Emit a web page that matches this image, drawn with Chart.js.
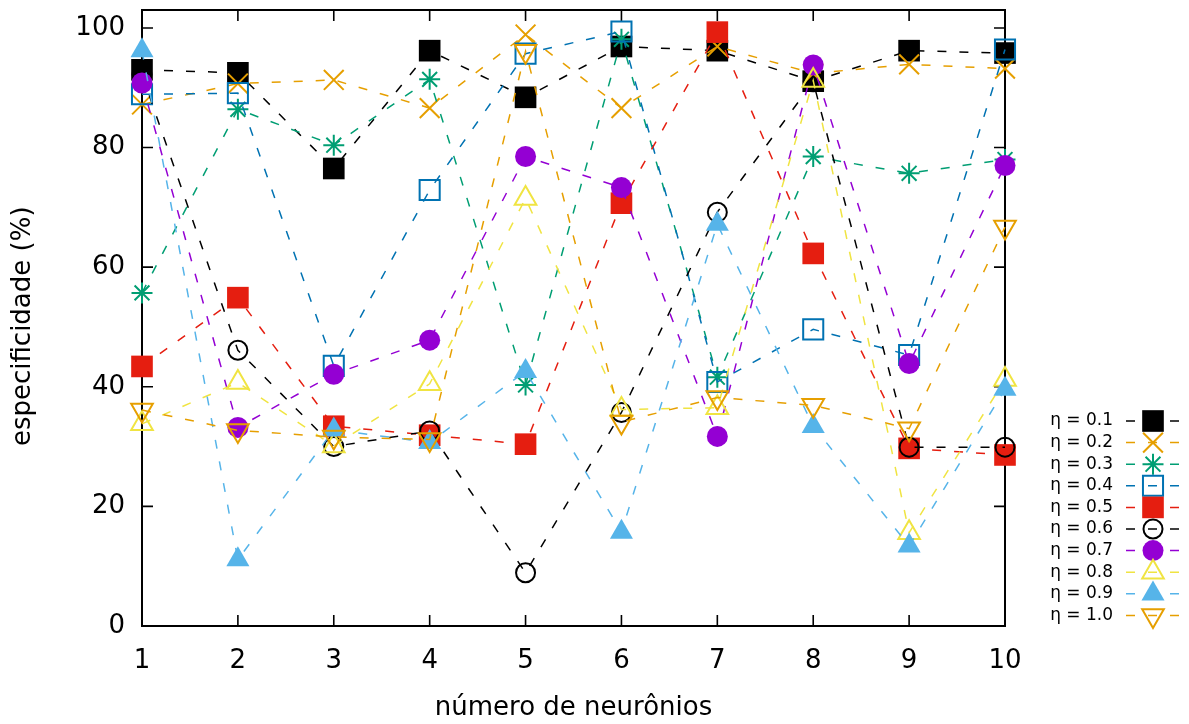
<!DOCTYPE html>
<html>
<head>
<meta charset="utf-8">
<script src="https://cdn.jsdelivr.net/npm/chart.js@4/dist/chart.umd.min.js"></script>
<style>
  html, body { margin: 0; padding: 0; background: #fff; }
  #wrap { width: 1189px; height: 724px; position: relative; }
</style>
</head>
<body>
<div id="wrap"><canvas id="chart"></canvas></div>
<script>
'use strict';

// data
const neurons = ['1', '2', '3', '4', '5', '6', '7', '8', '9', '10'];
const yTicks = [0, 20, 40, 60, 80, 100];
const etaLabels = ['η = 0.1', 'η = 0.2', 'η = 0.3', 'η = 0.4', 'η = 0.5',
                   'η = 0.6', 'η = 0.7', 'η = 0.8', 'η = 0.9', 'η = 1.0'];

const eta01 = [93.0, 92.5, 76.5, 96.2, 88.4, 96.9, 96.2, 91.1, 96.2, 95.8];
const eta02 = [87.2, 90.7, 91.3, 86.6, 98.9, 86.6, 96.9, 92.4, 93.9, 93.2];
const eta03 = [55.7, 86.4, 80.4, 91.4, 40.3, 98.1, 41.6, 78.5, 75.7, 78.0];
const eta04 = [88.9, 89.1, 43.5, 72.9, 95.7, 99.4, 40.8, 49.6, 45.3, 96.4];
const eta05 = [43.4, 54.9, 33.4, 31.9, 30.4, 70.7, 99.3, 62.3, 29.7, 28.6];
const eta06 = [92.2, 46.1, 30.0, 32.6, 8.9, 35.7, 69.2, 91.0, 29.9, 29.9];
const eta07 = [90.8, 33.2, 42.1, 47.8, 78.5, 73.3, 31.7, 93.8, 43.9, 77.0];
const eta08 = [33.8, 40.7, 30.1, 40.5, 71.5, 36.2, 36.5, 91.2, 15.6, 41.2];
const eta09 = [96.2, 11.1, 32.8, 30.7, 42.6, 15.7, 67.2, 33.4, 13.4, 39.6];
const eta10 = [36.1, 32.7, 31.6, 31.2, 96.1, 34.1, 38.2, 36.9, 33.0, 66.7];

const series = [eta01, eta02, eta03, eta04, eta05, eta06, eta07, eta08, eta09, eta10];

const FONT = "'DejaVu Sans', 'Liberation Sans', sans-serif";

// gnuplot-like marker per series
const styles = [
  { color: '#000000', shape: 'rect',     r: 15.3, fill: true },
  { color: '#e69f00', shape: 'crossRot', r: 14,   fill: false },
  { color: '#009e73', shape: 'star',     r: 10.5, fill: false },
  { color: '#0072b2', shape: 'rect',     r: 14.2, fill: false },
  { color: '#e51e10', shape: 'rect',     r: 15.3, fill: true },
  { color: '#000000', shape: 'circle',   r: 9.5,  fill: false },
  { color: '#9400d3', shape: 'circle',   r: 10.5, fill: true },
  { color: '#f0e442', shape: 'triangle', r: 12.5, fill: false },
  { color: '#56b4e9', shape: 'triangle', r: 13.3, fill: true },
  { color: '#e69f00', shape: 'triangle', r: 12.5, fill: false, rot: 180 },
];

const datasets = series.map((data, i) => {
  const s = styles[i];
  return {
    label: etaLabels[i],
    data,
    borderColor: s.color,
    borderWidth: 1.5,
    borderDash: [9, 13],
    tension: 0,
    fill: false,
    clip: false,
    pointStyle: s.shape,
    pointRadius: s.r,
    pointHoverRadius: s.r,
    pointRotation: s.rot || 0,
    pointBackgroundColor: s.fill ? s.color : 'rgba(0,0,0,0)',
    pointBorderColor: s.color,
    pointBorderWidth: s.fill ? 0 : 2,
    order: series.length - i, // later series on top, like gnuplot
  };
});

// border box with inward ticks on all four sides
const framePlugin = {
  id: 'frame',
  beforeDatasetsDraw(chart) {
    const { ctx, chartArea: a, scales: { x, y } } = chart;
    const tl = 11;
    ctx.save();
    ctx.strokeStyle = '#000';
    ctx.lineWidth = 1.6;
    ctx.beginPath();
    x.ticks.forEach((t, i) => {
      const px = x.getPixelForTick(i);
      ctx.moveTo(px, a.bottom); ctx.lineTo(px, a.bottom - tl);
      ctx.moveTo(px, a.top); ctx.lineTo(px, a.top + tl);
    });
    y.ticks.forEach((t, i) => {
      const py = y.getPixelForTick(i);
      ctx.moveTo(a.left, py); ctx.lineTo(a.left + tl, py);
      ctx.moveTo(a.right, py); ctx.lineTo(a.right - tl, py);
    });
    ctx.stroke();
    ctx.lineWidth = 2;
    ctx.strokeRect(a.left, a.top, a.right - a.left, a.bottom - a.top);
    ctx.restore();
  }
};

// gnuplot style key: text, then line sample with marker
const keyPlugin = {
  id: 'key',
  afterDraw(chart) {
    const ctx = chart.ctx;
    const a = chart.chartArea;
    const textRight = a.right + 108, lineL = a.right + 121, lineR = a.right + 175, mark = a.right + 148;
    ctx.save();
    chart.data.datasets.forEach((ds, i) => {
      const yy = 421 + i * 21.6;
      ctx.font = '17px ' + FONT;
      ctx.textAlign = 'right';
      ctx.textBaseline = 'middle';
      ctx.fillStyle = '#000';
      ctx.fillText(ds.label, textRight, yy);
      ctx.strokeStyle = ds.borderColor;
      ctx.lineWidth = ds.borderWidth;
      ctx.setLineDash(ds.borderDash);
      ctx.beginPath(); ctx.moveTo(lineL, yy); ctx.lineTo(lineR, yy); ctx.stroke();
      ctx.setLineDash([]);
      ctx.fillStyle = ds.pointBackgroundColor;
      ctx.strokeStyle = ds.pointBorderColor;
      ctx.lineWidth = ds.pointBorderWidth;
      Chart.helpers.drawPoint(ctx, {
        pointStyle: ds.pointStyle, radius: ds.pointRadius,
        rotation: ds.pointRotation, borderWidth: ds.pointBorderWidth
      }, mark, yy);
    });
    ctx.restore();
  }
};

const tickFont = { family: FONT, size: 26 };

new Chart(document.getElementById('chart'), {
  type: 'line',
  data: { labels: neurons, datasets },
  options: {
    responsive: true,
    maintainAspectRatio: false,
    animation: false,
    events: [],
    layout: { padding: { top: 10, right: 184, bottom: 0, left: 0 }, autoPadding: false },
    plugins: { legend: { display: false }, tooltip: { enabled: false } },
    scales: {
      x: {
        type: 'category',
        offset: false,
        grid: { display: false, drawTicks: false },
        border: { display: false },
        ticks: { font: tickFont, color: '#000', padding: 20, maxRotation: 0, autoSkip: false },
        title: { display: true, text: 'número de neurônios', font: tickFont, color: '#000', padding: { top: 0, bottom: 0 } },
        afterFit(s) { s.height = 98; s.paddingLeft = 0; s.paddingRight = 0; }
      },
      y: {
        min: 0,
        max: 103,
        afterBuildTicks(s) { s.ticks = yTicks.map(v => ({ value: v })); },
        grid: { display: false, drawTicks: false },
        border: { display: false },
        ticks: { font: tickFont, color: '#000', padding: 17 },
        title: { display: true, text: 'especificidade (%)  ', font: tickFont, color: '#000', padding: { top: 8, bottom: 0 } },
        afterFit(s) { s.width = 142; s.paddingTop = 0; s.paddingBottom = 0; }
      }
    }
  },
  plugins: [framePlugin, keyPlugin]
});
</script>
</body>
</html>
